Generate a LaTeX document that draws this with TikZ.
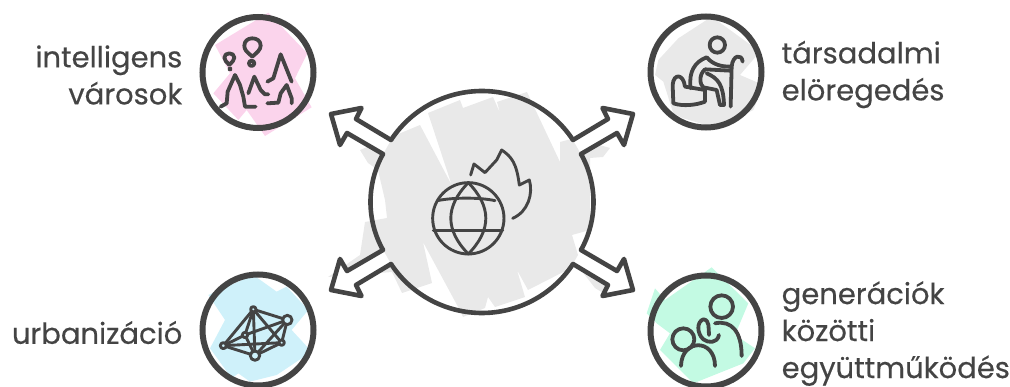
\documentclass[tikz,border=0pt]{standalone}
\usepackage{fontspec}
\setmainfont{Poppins}[FakeBold=0.35]
\usepackage{xcolor}
\usetikzlibrary{positioning, calc}
\definecolor{ink}{HTML}{444444}
\definecolor{patchgrey}{HTML}{E9E9E9}
\definecolor{patchpink}{HTML}{FBD4EC}
\definecolor{patchblue}{HTML}{CFF1FA}
\definecolor{patchgreen}{HTML}{C3FAE3}
\begin{document}
\begin{tikzpicture}[
    x=1pt, y=-1pt,
    disc/.style={draw=ink, line width=6pt, circle, minimum size=111pt, inner sep=0pt},
    hubnode/.style={circle, minimum size=222pt, inner sep=0pt},
    lbl/.style={text=ink, font=\fontsize{29}{37}\selectfont, inner sep=0pt, yshift=-2.5pt},
    icon/.style={draw=ink, line width=3.8pt, line cap=round, line join=round},
    thin icon/.style={draw=ink, line width=2.9pt, line cap=round, line join=round},
    crop/.style={shift={(#1)}, x=0.3333pt, y=-0.3333pt}
]
\useasboundingbox (0,0) rectangle (1010,387);
\fill[patchgrey] (360,150) -- (420,125) -- (451.7,185) -- (428,113) -- (460,100) -- (463,108) -- (493,97) -- (500,113) -- (497,102) -- (527,92) -- (560,162) -- (560,142) -- (575,138) -- (610,148) -- (603,157) -- (590,158) -- (590,230) -- (572,235) -- (578,255) -- (620,277) -- (603,293) -- (595,288) -- (577,265) -- (528,290) -- (517,270) -- (525,297) -- (495,307) -- (488,297) -- (485,308) -- (463,317) -- (457,305) -- (423,242) -- (432,283) -- (402,293) -- (392,272) -- (328,277) -- (360,255) -- (365,222) -- (387,218) -- (385,200) -- (378,170) -- (368,163) -- cycle;
\begin{scope}[crop={190,10}]
\fill[patchpink] (75,105) -- (235,8) -- (352,130) -- (315,205) -- (365,292) -- (225,378) -- (170,300) -- (145,330) -- (70,250) -- (120,190) -- cycle;
\end{scope}
\begin{scope}[crop={640,10}]
\fill[patchgrey] (115,85) -- (215,20) -- (360,125) -- (300,195) -- (370,225) -- (340,300) -- (230,355) -- (130,325) -- (100,310) -- (70,215) -- (45,195) -- (55,150) -- cycle;
\end{scope}
\begin{scope}[crop={190,260}]
\fill[patchblue] (55,105) -- (190,45) -- (260,95) -- (290,80) -- (355,150) -- (305,210) -- (365,275) -- (260,345) -- (180,365) -- (145,340) -- (125,355) -- (60,265) -- (105,180) -- cycle;
\end{scope}
\begin{scope}[crop={640,260}]
\fill[patchgreen] (45,85) -- (75,120) -- (215,22) -- (325,130) -- (285,225) -- (345,265) -- (310,310) -- (160,370) -- (130,340) -- (60,270) -- (90,220) -- (50,190) -- (20,160) -- cycle;
\end{scope}
\node[hubnode] (hub) at (482,202) {};
\node[disc] (cities) at (258,72.5) {};
\node[disc] (ageing) at (706,72) {};
\node[disc] (urban) at (258,330) {};
\node[disc] (gens) at (706,331) {};
\node[lbl, align=right, left=17pt of cities] (citieslbl) {intelligens\\városok};
\node[lbl, align=left, right=17pt of ageing] (ageinglbl) {társadalmi\\elöregedés};
\node[lbl, align=right, left=17pt of urban] (urbanlbl) {urbanizáció};
\node[lbl, align=left, right=17pt of gens] (genslbl) {generációk\\közötti\\együttműködés};
\begin{scope}[shift={(hub.center)}]
\draw[ink, line width=4.6pt] (91,-62) arc[start angle=-33.4, end angle=-146.6, radius=109];
\draw[ink, line width=4.6pt] (91,62) arc[start angle=33.4, end angle=146.6, radius=109];
\draw[ink, line width=4.6pt] (99,-48) arc[start angle=-29.2, end angle=29.2, radius=98.4];
\draw[ink, line width=4.6pt] (-99,-48) arc[start angle=-150.8, end angle=-209.2, radius=98.4];
\foreach \sx/\sy in {1/1, -1/1, 1/-1, -1/-1}
  \draw[ink, line width=4.6pt, line join=round, line cap=round, fill=white, xscale=\sx, yscale=\sy]
    (91,-62) -- (126,-83) -- (120.5,-94) -- (151,-88) -- (142,-57) -- (135,-69) -- (99,-48);
\end{scope}
\begin{scope}[crop={320,70}]
\draw[thin icon] (445,445) circle[radius=107];
\draw[thin icon] (445,338) .. controls (375,410) and (375,480) .. (445,552) .. controls (515,480) and (515,410) .. (445,338);
\draw[thin icon] (352,392) .. controls (400,382) and (480,382) .. (525,392);
\draw[thin icon] (340,482) -- (548,482);
\draw[thin icon] (452,315) -- (462,282) -- (495,308) -- (530,270) -- (545,240) .. controls (575,260) and (590,280) .. (598,345) -- (628,330) .. controls (640,370) and (625,425) .. (578,445);
\end{scope}
\begin{scope}[crop={190,10}]
\draw[icon] (187,140) .. controls (170,125) and (163,120) .. (163,107) .. controls (163,92) and (175,85) .. (187,85) .. controls (200,85) and (212,92) .. (212,107) .. controls (212,120) and (200,128) .. (187,140);
\draw[icon] (185,160) circle[radius=8];
\draw[icon] (118,165) .. controls (110,155) and (103,152) .. (103,143) .. controls (103,135) and (110,130) .. (118,130) .. controls (126,130) and (133,135) .. (133,143) .. controls (133,152) and (126,155) .. (118,165);
\draw[icon] (120,177) circle[radius=2];
\draw[icon] (92,290) -- (110,280) -- (113,245) -- (135,195) -- (150,225) -- (160,260) -- (165,290) -- (197,290);
\draw[icon] (175,250) -- (193,200) -- (212,240) -- (225,253) -- (235,253);
\draw[icon] (232,215) -- (250,205) -- (272,133) -- (293,185) -- (305,215);
\draw[icon] (232,280) -- (265,278) -- (272,250) -- (290,225) -- (305,265) -- (305,280);
\end{scope}
\begin{scope}[crop={640,10}]
\draw[icon] (232,105) circle[radius=23];
\draw[icon] (200,142) .. controls (165,155) and (145,185) .. (152,235);
\draw[icon] (200,142) .. controls (220,165) and (245,170) .. (272,170);
\draw[icon] (195,178) -- (270,182);
\draw[icon] (195,178) .. controls (175,195) and (180,225) .. (190,232) -- (230,240) -- (240,285);
\draw[icon] (200,190) .. controls (235,205) and (250,225) .. (252,285) -- (240,285);
\draw[icon] (272,290) -- (275,170) .. controls (278,135) and (305,130) .. (308,155);
\draw[icon] (135,230) .. controls (130,190) and (100,190) .. (98,225) -- (100,280) .. controls (130,290) and (170,285) .. (195,275) -- (195,240) -- (135,230);
\end{scope}
\begin{scope}[crop={190,260}]
\coordinate (netA) at (190,148);
\coordinate (netB) at (292,180);
\coordinate (netC) at (275,248);
\coordinate (netD) at (195,287);
\coordinate (netE) at (100,257);
\coordinate (netF) at (165,225);
\foreach \x/\y in {netA/netB, netA/netE, netA/netF, netA/netD, netA/netC, netB/netC, netB/netF, netB/netD, netC/netD, netC/netE, netE/netF, netE/netD, netF/netD}
  \draw[thin icon] (\x) -- (\y);
\foreach \x/\r in {netA/8, netB/14, netC/8, netD/14, netE/9, netF/8}
  \draw[thin icon, fill=patchblue] (\x) circle[radius=\r];
\end{scope}
\begin{scope}[crop={640,260}]
\draw[icon] (245,140) circle[radius=34];
\draw[icon] (130,238) circle[radius=33];
\draw[icon] (225,190) .. controls (275,180) and (305,215) .. (305,288);
\draw[icon] (123,318) .. controls (125,235) and (225,235) .. (225,318);
\draw[icon] (237,225) .. controls (232,250) and (205,250) .. (190,238) .. controls (170,220) and (170,185) .. (190,178) .. controls (210,180) and (205,205) .. (207,225);
\end{scope}
\end{tikzpicture}
\end{document}
